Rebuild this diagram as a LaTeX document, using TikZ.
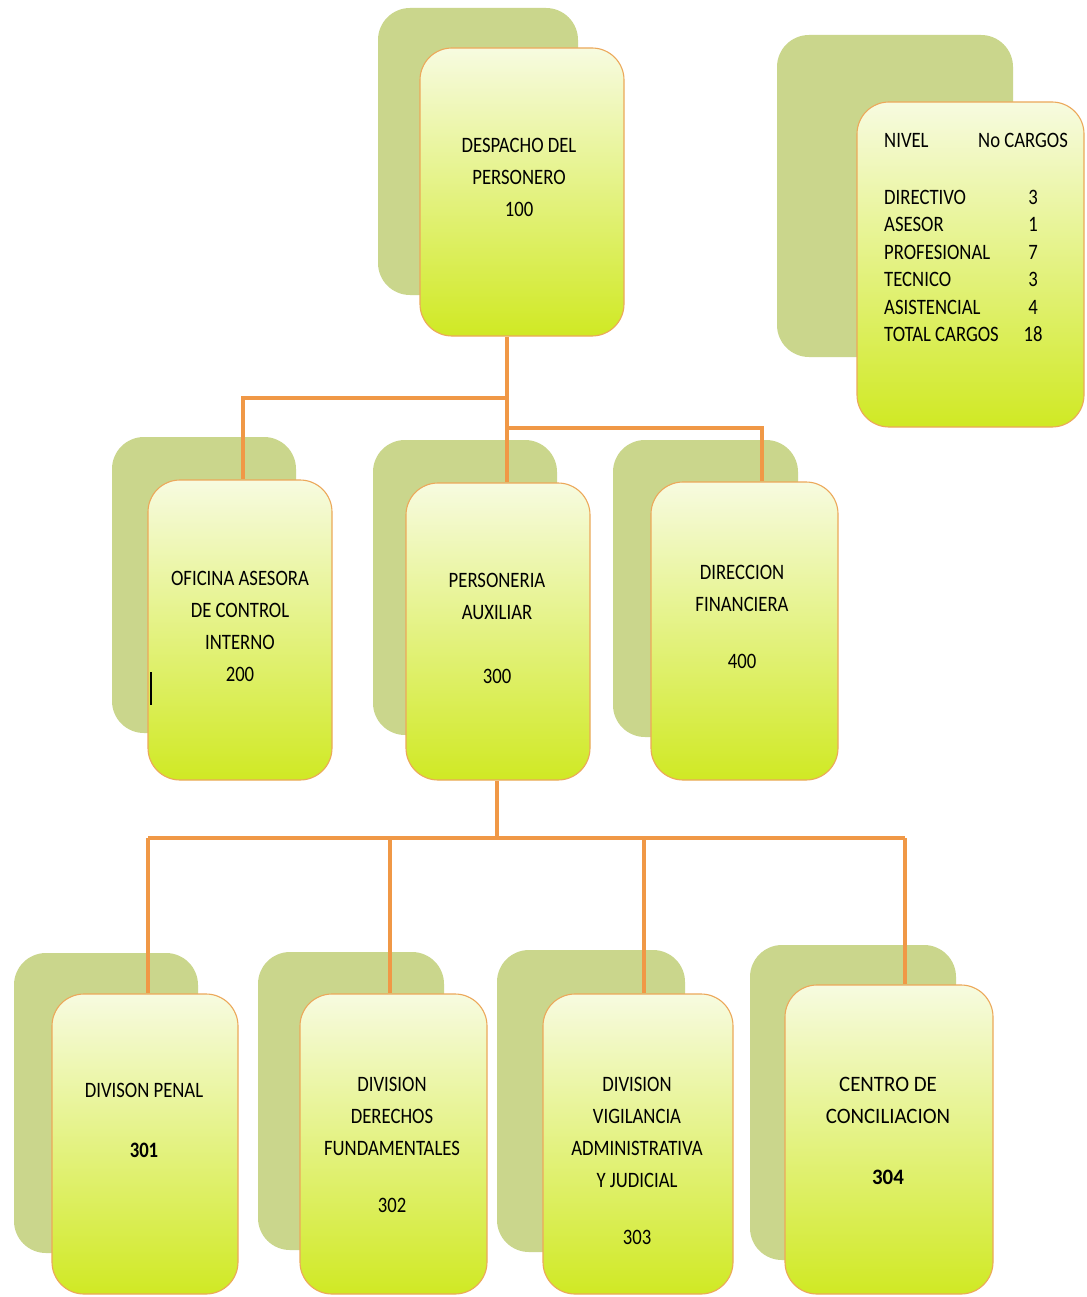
\documentclass[tikz,border=0pt]{standalone}
\usepackage{fontspec}
\setmainfont[FakeStretch=0.85]{Carlito}
\newfontfamily\widefont[FakeStretch=0.95]{Carlito}
\usetikzlibrary{calc}
\pgfdeclarelayer{bg}
\pgfdeclarelayer{mid}
\pgfsetlayers{bg,mid,main}
\definecolor{shadowg}{RGB}{202,214,140}
\definecolor{ftop}{RGB}{247,251,224}
\definecolor{fmid}{RGB}{237,246,172}
\definecolor{fbot}{RGB}{208,233,36}
\definecolor{fborder}{RGB}{236,168,90}
\definecolor{conn}{RGB}{240,152,70}
\begin{document}
\begin{tikzpicture}[x=1pt,y=-1pt,
  shadowbox/.style={rectangle, rounded corners=32pt, fill=shadowg, draw=none, inner sep=0pt},
  frontbox/.style={rectangle, rounded corners=32pt, draw=fborder, line width=1.1pt,
     top color=ftop, middle color=fmid, bottom color=fbot, inner sep=0pt},
  lbl/.style={anchor=north, align=center, inner sep=0pt, font=\fontsize{22}{32}\selectfont},
  lbll/.style={anchor=north west, align=left, inner sep=0pt, font=\fontsize{22}{27.4}\selectfont},
  wire/.style={draw=conn, line width=3.6pt}]
\useasboundingbox (0,0) rectangle (1086,1297);
% shadows
\begin{pgfonlayer}{bg}
\fill[white] (0,0) rectangle (1086,1297);
\node[shadowbox, minimum width=200, minimum height=287] (s100) at (478,151.5) {};
\node[shadowbox, minimum width=236, minimum height=322] (sleg) at (895,196) {};
\node[shadowbox, minimum width=184, minimum height=296] (s200) at (204,585) {};
\node[shadowbox, minimum width=184, minimum height=295] (s300) at (465,587.5) {};
\node[shadowbox, minimum width=185, minimum height=297] (s400) at (705.5,588.5) {};
\node[shadowbox, minimum width=184, minimum height=300] (s301) at (106,1103) {};
\node[shadowbox, minimum width=186, minimum height=298] (s302) at (351,1101) {};
\node[shadowbox, minimum width=188, minimum height=302] (s303) at (591,1101) {};
\node[shadowbox, minimum width=206, minimum height=315] (s304) at (853,1102.5) {};
\end{pgfonlayer}
% front boxes
\node[frontbox, minimum width=204, minimum height=288] (b100) at (522,192) {};
\node[frontbox, minimum width=227, minimum height=325] (bleg) at (970.5,264.5) {};
\node[frontbox, minimum width=184, minimum height=300] (b200) at (240,630) {};
\node[frontbox, minimum width=184, minimum height=297] (b300) at (498,631.5) {};
\node[frontbox, minimum width=187, minimum height=298] (b400) at (744.5,631) {};
\node[frontbox, minimum width=186, minimum height=300] (b301) at (145,1144) {};
\node[frontbox, minimum width=187, minimum height=300] (b302) at (393.5,1144) {};
\node[frontbox, minimum width=190, minimum height=300] (b303) at (638,1144) {};
\node[frontbox, minimum width=208, minimum height=309] (b304) at (889,1139.5) {};
% texts
\node[lbl] (t100) at (519,138) {DESPACHO DEL\\PERSONERO\\100};
\node[lbll] (tniv) at (884,133) {NIVEL};
\node[lbll] (tnoc) at (978,133) {No CARGOS};
\node[lbll] (tlist) at (884,190) {DIRECTIVO\\ASESOR\\PROFESIONAL\\TECNICO\\ASISTENCIAL\\TOTAL CARGOS};
\node[anchor=north, align=center, inner sep=0pt, font=\fontsize{22}{27.4}\selectfont] (tnum) at (1033,190) {3\\1\\7\\3\\4\\18};
\node[lbl] (t200) at (240,571) {OFICINA ASESORA\\DE CONTROL\\INTERNO\\200};
\node[lbl] (t300) at (497,573) {PERSONERIA\\AUXILIAR\\[32pt]300};
\node[lbl] (t400) at (742,565) {DIRECCION\\FINANCIERA\\[25pt]400};
\node[lbl] (t301) at (144,1083) {DIVISON PENAL\\[28pt]\textbf{301}};
\node[lbl] (t302) at (392,1077) {DIVISION\\DERECHOS\\FUNDAMENTALES\\[25pt]302};
\node[lbl] (t303) at (637,1077) {DIVISION\\VIGILANCIA\\ADMINISTRATIVA\\Y JUDICIAL\\[25pt]303};
\node[lbl, font=\widefont\fontsize{22}{32}\selectfont] (t304) at (888,1077) {CENTRO DE\\CONCILIACION\\[29pt]\textbf{304}};
% connectors
\coordinate (j1) at (507,398);
\coordinate (j1l) at (243,398);
\coordinate (j2) at (507,428);
\coordinate (j2r) at (762,428);
\coordinate (j3) at (497,838);
\coordinate (k301) at (148,838);
\coordinate (k302) at (390,838);
\coordinate (k303) at (644,838);
\coordinate (k304) at (905,838);
\begin{pgfonlayer}{mid}
\draw[wire] (b100.south -| j1) -- (b300.north -| j1);
\draw[wire] (j1) -- (j1l) -- (b200.north -| j1l);
\draw[wire] (j2) -- (j2r) -- (b400.north -| j2r);
\draw[wire] (b300.south -| j3) -- (j3);
\draw[wire] (k301) -- (k304);
\draw[wire] (k301) -- (b301.north -| k301);
\draw[wire] (k302) -- (b302.north -| k302);
\draw[wire] (k303) -- (b303.north -| k303);
\draw[wire] (k304) -- (b304.north -| k304);
\end{pgfonlayer}
% stray cursor mark
\coordinate (m1) at (151,672);
\coordinate (m2) at (151,705);
\draw[black, line width=2.5pt] (m1) -- (m2);
\end{tikzpicture}
\end{document}
